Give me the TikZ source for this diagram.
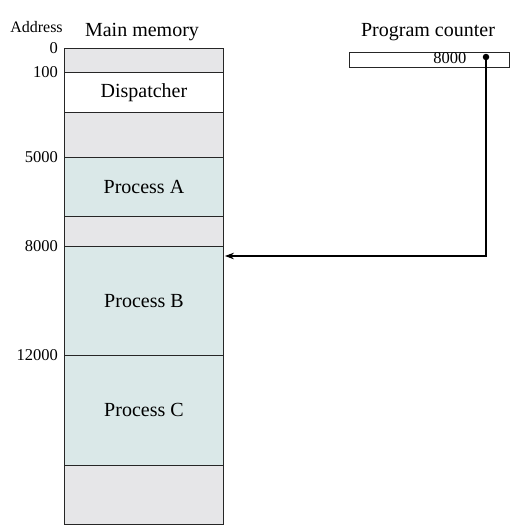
\documentclass[tikz,border=0pt]{standalone}
\usepackage{fontspec}
\setmainfont{Liberation Serif}
\usetikzlibrary{arrows.meta}
\definecolor{memgray}{RGB}{230,230,232}
\definecolor{memblue}{RGB}{218,232,232}
\begin{document}
\begin{tikzpicture}[x=1pt,y=-1pt,
  region/.style={draw=black!85,line width=0.9pt,inner sep=0pt,anchor=north west,
    minimum width=159pt,font=\fontsize{20}{22}\selectfont},
  addr/.style={anchor=east,inner sep=0pt,font=\fontsize{16.5}{18}\selectfont},
  title/.style={anchor=base,inner sep=0pt,font=\fontsize{20}{22}\selectfont}]
\useasboundingbox (0,0) rectangle (511,531);
% memory regions
\node[region,fill=memgray,minimum height=24pt] (r0) at (64,48) {};
\node[region,fill=white,minimum height=40pt] (disp) at (64,72) {Dispatcher};
\node[region,fill=memgray,minimum height=45pt] (r1) at (64,112) {};
\node[region,fill=memblue,minimum height=59pt] (pa) at (64,157) {Process A};
\node[region,fill=memgray,minimum height=30pt] (r2) at (64,216) {};
\node[region,fill=memblue,minimum height=109pt] (pb) at (64,246) {Process B};
\node[region,fill=memblue,minimum height=110pt] (pc) at (64,355) {Process C};
\node[region,fill=memgray,minimum height=59pt] (r3) at (64,465) {};
% address labels
\node[addr] (a0) at (58,48) {0};
\node[addr] (a100) at (58,72) {100};
\node[addr] (a5000) at (58,157) {5000};
\node[addr] (a8000) at (58,246) {8000};
\node[addr] (a12000) at (58,355) {12000};
% titles
\node[title,font=\fontsize{16}{18}\selectfont] (taddr) at (36.5,32.7) {Address};
\node[title] (tmem) at (142,36.7) {Main memory};
\node[title] (tpc) at (428,36.7) {Program counter};
% program counter
\node[draw=black!85,line width=0.9pt,inner sep=0pt,minimum width=160pt,minimum height=15pt,anchor=north west] (pcbox) at (349,52) {};
\node[anchor=base east,inner sep=0pt,font=\fontsize{16.5}{18}\selectfont] (pcval) at (466.5,63) {8000};
\node[circle,fill=black,inner sep=0pt,minimum size=6.5pt] (dot) at (486,57) {};
\coordinate (tgt) at ([xshift=1pt,yshift=-10pt]pb.north east);
\draw[line width=1.4pt,-{Stealth[length=9pt,width=6.5pt]}] (dot.center) |- (tgt);
\end{tikzpicture}
\end{document}
